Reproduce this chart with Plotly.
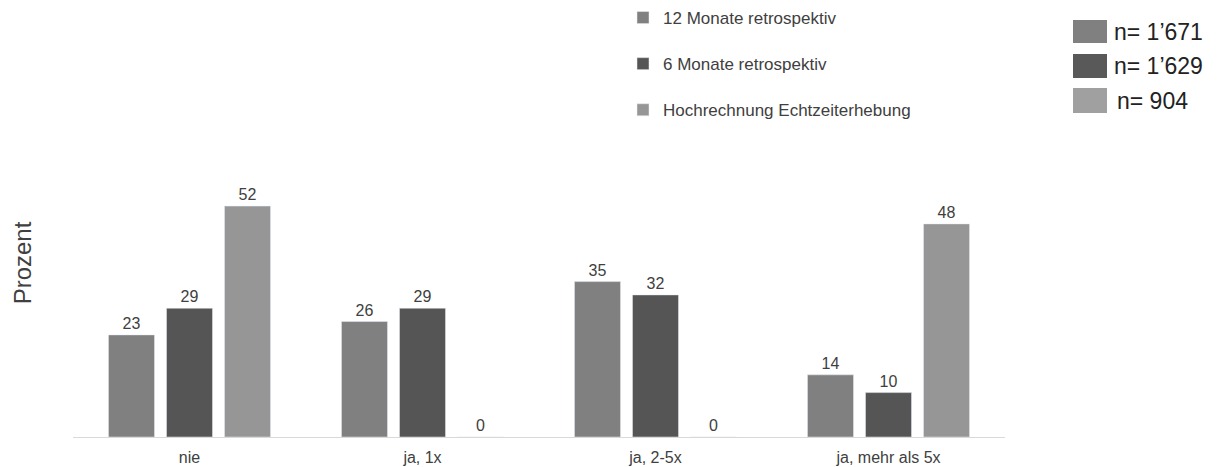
import plotly.graph_objects as go

categories = ["nie", "ja, 1x", "ja, 2-5x", "ja, mehr als 5x"]
series_names = ["12 Monate retrospektiv", "6 Monate retrospektiv", "Hochrechnung Echtzeiterhebung"]
vals_12m = [23, 26, 35, 14]
vals_6m = [29, 29, 32, 10]
vals_hoch = [52, 0, 0, 48]
n_labels = ["n= 1\u2019671", "n= 1\u2019629", "n= 904"]

colors = ["#808080", "#555555", "#969696"]
n_colors = ["#808080", "#595959", "#a0a0a0"]

W, H = 1217, 467
L, R, T, B = 73, 212, 89, 30
PW, PH = W - L - R, H - T - B

def px(x):
    return (x - L) / PW

def py(y):
    return (H - B - y) / PH

fig = go.Figure()
for i, (name, vals) in enumerate(zip(series_names, [vals_12m, vals_6m, vals_hoch])):
    fig.add_trace(go.Bar(
        x=categories, y=vals, name=name, marker_color=colors[i],
        text=[str(v) for v in vals], textposition="outside",
        textfont=dict(size=16, color="#404040"), cliponaxis=False,
        legendgroup=f"g{i}",
    ))

shapes = []
annotations = []
box_y = [(20, 43), (54, 78), (88, 113)]
for i, lab in enumerate(n_labels):
    y0, y1 = box_y[i]
    shapes.append(dict(type="rect", xref="paper", yref="paper",
                       x0=px(1073), x1=px(1107), y0=py(y1), y1=py(y0),
                       fillcolor=n_colors[i], line=dict(width=0)))
    annotations.append(dict(xref="paper", yref="paper", x=px(1112 if i < 2 else 1115),
                            y=py((y0 + y1) / 2), text=lab, showarrow=False,
                            xanchor="left", yanchor="middle",
                            font=dict(size=23, color="#222222")))

fig.update_layout(
    width=W, height=H,
    margin=dict(l=L, r=R, t=T, b=B, autoexpand=False),
    paper_bgcolor="white", plot_bgcolor="white",
    font=dict(family="Liberation Sans, Arial, sans-serif", color="#404040"),
    barmode="group", bargap=0.253, bargroupgap=0.207,
    showlegend=True,
    legend=dict(x=px(623), y=py(0), xanchor="left", yanchor="top",
                font=dict(size=17, color="#404040"), tracegroupgap=21,
                itemwidth=30, bgcolor="rgba(0,0,0,0)"),
    shapes=shapes, annotations=annotations,
    xaxis=dict(showline=True, linecolor="#d9d9d9", linewidth=1, ticks="",
               ticklabelstandoff=6, automargin=False,
               tickfont=dict(size=16, color="#404040"), showgrid=False),
    yaxis=dict(range=[0, PH / 4.44], showticklabels=False, showgrid=False,
               zeroline=False, ticks="", automargin=False,
               title=dict(text="Prozent", font=dict(size=24, color="#404040"), standoff=33)),
)

fig.write_html("out.html")
